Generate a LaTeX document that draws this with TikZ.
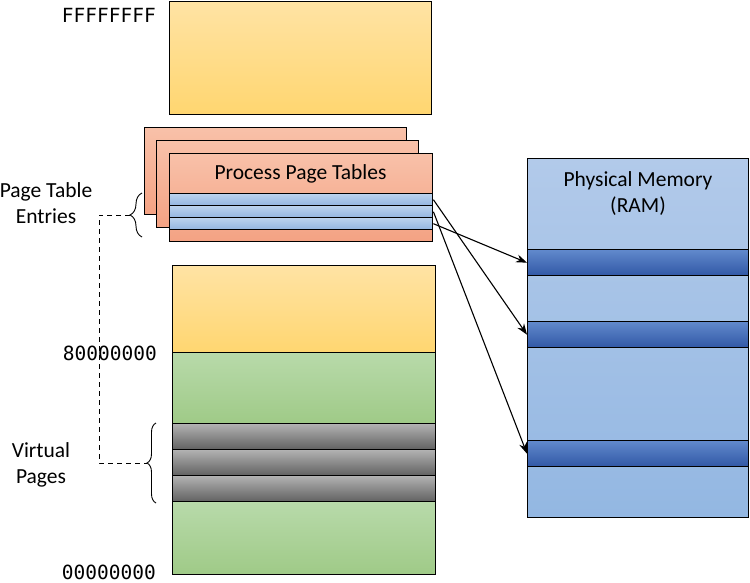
\documentclass[tikz,border=0pt]{standalone}
\usepackage{fontspec}
\setmainfont{Carlito}
\setmonofont{DejaVu Sans Mono}
\usetikzlibrary{arrows.meta}
\usetikzlibrary{decorations.pathreplacing}

\definecolor{ylwtop}{HTML}{FFE3A4}
\definecolor{ylwbot}{HTML}{FFD670}
\definecolor{saltop}{HTML}{F8C1A9}
\definecolor{salbot}{HTML}{F4A283}
\definecolor{ptetop}{HTML}{BCD3EE}
\definecolor{ptebot}{HTML}{93B5E0}
\definecolor{grntop}{HTML}{B8DAAA}
\definecolor{grnbot}{HTML}{9FCA87}
\definecolor{ramtop}{HTML}{B2CAEA}
\definecolor{rambot}{HTML}{93B7E2}
\definecolor{bandtop}{HTML}{6189CC}
\definecolor{bandbot}{HTML}{3158A6}

\begin{document}
\begin{tikzpicture}[x=1pt, y=-1pt,
  blk/.style={draw, line width=1.4pt, inner sep=0pt, anchor=north west},
  ylw/.style={top color=ylwtop, bottom color=ylwbot},
  sal/.style={top color=saltop, bottom color=salbot},
  pte/.style={blk, top color=ptetop, bottom color=ptebot, minimum width=263pt, minimum height=12pt},
  grn/.style={top color=grntop, bottom color=grnbot},
  vpage/.style={blk, top color=black!30, bottom color=black!62, minimum width=263pt, minimum height=26pt},
  ram/.style={top color=ramtop, bottom color=rambot},
  band/.style={blk, top color=bandtop, bottom color=bandbot, minimum width=221pt, minimum height=26pt},
  lbl/.style={font=\fontsize{21.5}{26}\selectfont, align=center, inner sep=0pt},
  addr/.style={font=\ttfamily\fontsize{19.5}{22}\selectfont, inner sep=0pt, anchor=base east},
  ptr/.style={-{Stealth[length=11pt, width=8pt]}, line width=1.1pt},
  brc/.style={decorate, line width=0.9pt}]
\useasboundingbox (0,0) rectangle (750,583);

% virtual address space, upper half
\node[blk, ylw, minimum width=262pt, minimum height=113pt] (kernel) at (169,1) {};

% stack of page tables
\node[blk, sal, minimum width=262pt, minimum height=87pt] (tablec) at (144,127) {};
\node[blk, sal, minimum width=262pt, minimum height=87pt] (tableb) at (156,140) {};
\node[blk, sal, minimum width=263pt, minimum height=88pt] (tablea) at (169,153) {};
\node[lbl, anchor=base] (ptname) at (300.5,179) {Process Page Tables};
\node[pte] (pte1) at (169,193) {};
\node[pte] (pte2) at (169,205) {};
\node[pte] (pte3) at (169,217) {};

% virtual address space, lower half
\node[blk, ylw, minimum width=263pt, minimum height=87pt] (upper) at (172,265) {};
\node[blk, grn, minimum width=263pt, minimum height=71pt] (user) at (172,352) {};
\node[vpage] (vp1) at (172,423) {};
\node[vpage] (vp2) at (172,449) {};
\node[vpage] (vp3) at (172,475) {};
\node[blk, grn, minimum width=263pt, minimum height=73pt] (lower) at (172,501) {};

% physical memory
\node[blk, ram, minimum width=221pt, minimum height=359pt] (phys) at (527,158) {};
\node[lbl, anchor=base] (physname) at (638,212) {Physical Memory\\(RAM)};
\node[band] (band1) at (527,249) {};
\node[band] (band2) at (527,321) {};
\node[band] (band3) at (527,440) {};

% addresses
\node[addr] (afff) at (156,23) {FFFFFFFF};
\node[addr] (a800) at (157,360) {80000000};
\node[addr] (a000) at (156,579) {00000000};

% braces and labels
\node[lbl, anchor=base] (ptelbl) at (46,223) {Page Table\\Entries};
\node[lbl, anchor=base] (vplbl) at (41,483) {Virtual\\Pages};
\draw[brc, decoration={brace, amplitude=12pt}] (142,237) -- (142,193)
  coordinate[midway, xshift=-12pt] (ptebrace);
\draw[brc, decoration={brace, amplitude=9pt}] (156,503) -- (156,423)
  coordinate[midway, xshift=-9pt] (vpbrace);
\draw[dashed, line width=0.9pt, dash pattern=on 5pt off 4pt] (ptebrace) -- ++(-31,0) |- (vpbrace);

% page table entries to frames
\draw[ptr] (pte1.east) -- (band2.west);
\draw[ptr] (pte2.east) -- (band3.west);
\draw[ptr] (pte3.east) -- (band1.west);
\end{tikzpicture}
\end{document}
